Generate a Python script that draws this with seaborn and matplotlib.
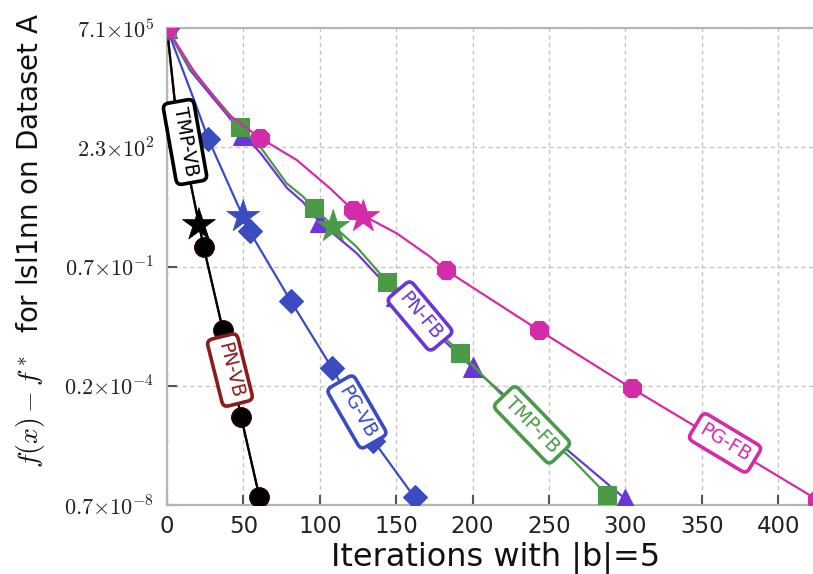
import numpy as np
import pandas as pd
import matplotlib
matplotlib.use("Agg")
import matplotlib.pyplot as plt
import seaborn as sns

# ---------------- data ----------------
pgfb_x = [0, 17, 39, 60.8, 84.9, 106.7, 121.6, 150.3, 172.1, 182.4, 243.2, 304, 364.8, 425.6]
pgfb_y = [7.1e5, 4.3e4, 2.3e3, 4.3e2, 9.64e1, 1.42e1, 3.27, 6.76e-1, 1.39e-1, 5.6e-2,
          9.7e-4, 1.9e-5, 4.4e-7, 1.0e-8]
pgfb_mk = [0, 3, 6, 9, 10, 11, 12, 13]

tmpfb_x = [0, 15, 48, 61, 78.3, 89.2, 96, 124, 144, 192, 222.5, 240, 265.7, 288]
tmpfb_y = [7.1e5, 4.9e4, 9.0e2, 2.37e2, 1.99e1, 8.0, 3.66, 2.73e-1, 2.55e-2, 2.05e-4,
           8.5e-6, 1.64e-6, 1.47e-7, 1.38e-8]
tmpfb_mk = [0, 2, 6, 8, 9, 11, 13]

pnfb_x = [0, 15, 50, 61, 78.5, 89, 100, 124, 150, 200, 250, 262, 300]
pnfb_y = [7.1e5, 4.26e4, 5.37e2, 1.58e2, 1.45e1, 5.6, 1.41, 1.78e-1, 9.9e-3, 7.7e-5,
          8.4e-7, 2.9e-7, 1.05e-8]
pnfb_mk = [0, 2, 6, 8, 9, 10, 12]

pgvb_x = [0, 17, 27, 54, 81, 108, 135, 162]
pgvb_y = [7.1e5, 6.84e3, 4.0e2, 7.76e-1, 6.9e-3, 7.4e-5, 5.5e-7, 1.17e-8]
pgvb_mk = [0, 2, 3, 4, 5, 6, 7]

tmpvb_x = [0, 5, 12, 21, 24, 36.5, 48.5, 60.5]
tmpvb_y = [7.1e5, 5.6e3, 1.17e2, 1.19, 2.67e-1, 1.0e-3, 2.7e-6, 1.2e-8]
tmpvb_mk = [0, 2, 4, 5, 6, 7]

pnvb_x = [0, 5, 12, 21, 24, 36.5, 48.5, 60.5]
pnvb_y = [7.1e5, 5.6e3, 1.17e2, 1.19, 2.67e-1, 1.0e-3, 2.7e-6, 1.2e-8]
pnvb_mk = [0, 2, 4, 5, 6, 7]

star_names = ["TMP-VB", "PG-VB", "TMP-FB", "PG-FB"]
star_x = [20.9, 49.9, 108.8, 128.5]
star_y = [1.19, 2.08, 1.06, 2.07]

ytick_vals = [10 ** 5.863, 10 ** 2.3585, 10 ** -1.146, 10 ** -4.650, 10 ** -8.155]
ytick_labels = [r"$7.1{\times}10^{5}$", r"$2.3{\times}10^{2}$", r"$0.7{\times}10^{-1}$",
                r"$0.2{\times}10^{-4}$", r"$0.7{\times}10^{-8}$"]
xtick_vals = [0, 50, 100, 150, 200, 250, 300, 350, 400]

# label annotations: name, x, y, rotation
lab_names = ["TMP-VB", "PN-VB", "PG-VB", "PN-FB", "TMP-FB", "PG-FB"]
lab_x = [11.8, 41.2, 124.3, 165.6, 238.9, 365.2]
lab_y = [10 ** 2.513, 10 ** -4.19, 10 ** -5.42, 10 ** -2.60, 10 ** -5.80, 10 ** -6.33]
lab_rot = [-80, -76, -60, -50, -46, -31]

colors = {
    "PG-FB": "#d42ba8",
    "PG-VB": "#3b4cc0",
    "TMP-FB": "#4a9a48",
    "PN-FB": "#6b36d6",
    "TMP-VB": "#000000",
    "PN-VB": "#8a1c1c",
}

# ---------------- style ----------------
sns.set_theme(style="white")
plt.rcParams["font.family"] = ["DejaVu Sans"]
plt.rcParams["mathtext.fontset"] = "cm"

fig = plt.figure(figsize=(8.13, 5.74), dpi=100)
ax = fig.add_axes([167 / 813, 1 - 505 / 574, 646 / 813, 477 / 574])
ax.set_yscale("log")

series = [
    ("PN-VB", pnvb_x, pnvb_y, pnvb_mk, "o", 14),
    ("TMP-VB", tmpvb_x, tmpvb_y, tmpvb_mk, "o", 14),
    ("PG-VB", pgvb_x, pgvb_y, pgvb_mk, "D", 12.5),
    ("PN-FB", pnfb_x, pnfb_y, pnfb_mk, "^", 14),
    ("TMP-FB", tmpfb_x, tmpfb_y, tmpfb_mk, "s", 13.5),
    ("PG-FB", pgfb_x, pgfb_y, pgfb_mk, "8", 14),
]
for i, (name, xs, ys, mk, m, ms) in enumerate(series):
    c = colors[name]
    df = pd.DataFrame({"x": xs, "y": ys})
    mec = "#2a0505" if name == "TMP-VB" else c
    sns.lineplot(data=df, x="x", y="y", ax=ax, color=c, lw=1.6, marker=m,
                 markersize=ms, markevery=mk, markerfacecolor=c,
                 markeredgecolor=mec, markeredgewidth=0.8, estimator=None,
                 sort=False, zorder=3 + i * 0.1, clip_on=True)

sdf = pd.DataFrame({"x": star_x, "y": star_y, "name": star_names})
sns.scatterplot(data=sdf, x="x", y="y", hue="name", palette=colors, marker="*",
                s=620, ax=ax, legend=False, linewidth=0.5, zorder=4)
for coll in ax.collections:
    coll.set_edgecolor(coll.get_facecolor())

for name, lx, ly, rot in zip(lab_names, lab_x, lab_y, lab_rot):
    c = colors[name]
    ax.text(lx, ly, name, rotation=rot, rotation_mode="anchor", ha="center",
            va="center", color=c, fontsize=13.5, zorder=6,
            bbox=dict(boxstyle="round,pad=0.32,rounding_size=0.3", fc="white",
                      ec=c, lw=2.6))

ax.set_xlim(0, 646 / 1.528)
ax.set_ylim(10 ** -8.155, 10 ** 5.863)
ax.set_xticks(xtick_vals)
ax.set_xticklabels([str(v) for v in xtick_vals], fontsize=16.5, color="#222222")
ax.set_yticks(ytick_vals)
ax.set_yticklabels(ytick_labels, fontsize=16, color="#222222")
ax.yaxis.set_minor_locator(matplotlib.ticker.NullLocator())

ax.grid(True, which="major", ls=(0, (3, 2.5)), color="#c4c4c4", lw=1.0)
ax.set_axisbelow(True)
for side in ["left", "bottom", "top"]:
    ax.spines[side].set_color("#b5b5b5")
    ax.spines[side].set_linewidth(1.6)
ax.spines["right"].set_visible(False)

ax.tick_params(axis="x", direction="in", length=7, width=1.5, color="#555555",
               pad=7, bottom=True, top=False)
ax.tick_params(axis="y", direction="in", length=7, width=1.5, color="#555555",
               pad=9, left=True, right=False)

ax.set_xlabel("Iterations with |b|=5", fontsize=23, color="#111111")
ax.set_ylabel(r"$f(x) - f^*$  for lsl1nn on Dataset A", fontsize=20, color="#111111")
ax.xaxis.set_label_coords(0.508, -0.077)
ax.yaxis.set_label_coords(-0.186, 0.555)

fig.savefig("out.png", dpi=100)
